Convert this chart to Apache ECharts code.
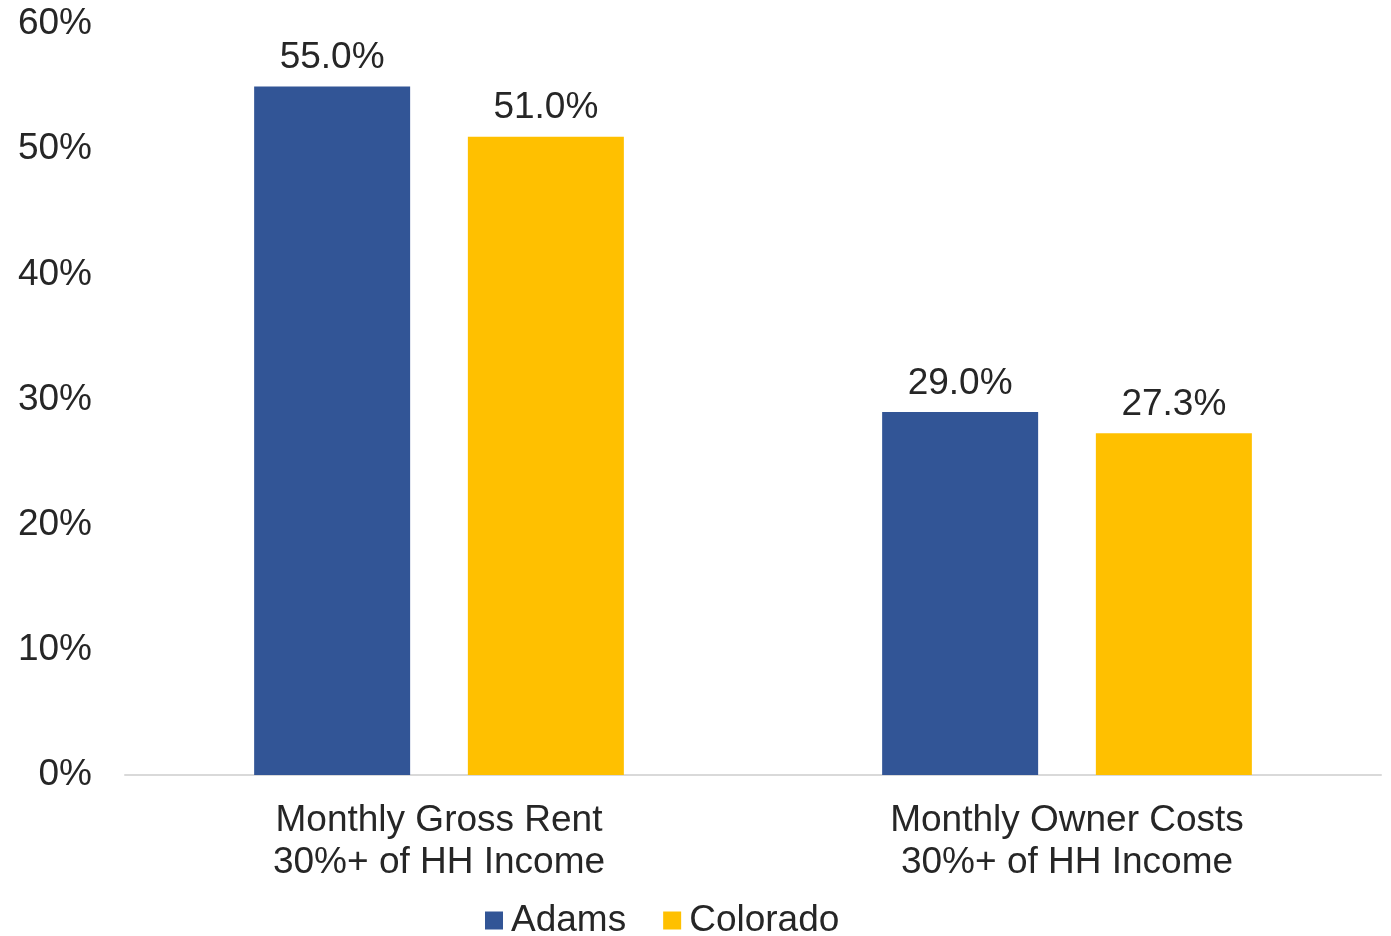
<!DOCTYPE html>
<html>
<head>
<meta charset="utf-8">
<script src="https://cdn.jsdelivr.net/npm/echarts@6/dist/echarts.min.js"></script>
<style>html,body{margin:0;padding:0;background:#fff}#c{width:1391px;height:936px}</style>
</head>
<body>
<div id="c"></div>
<script>
const categories = ['Monthly Gross Rent\n30%+ of HH Income', 'Monthly Owner Costs\n30%+ of HH Income'];
const adams = [55.0, 29.0];
const colorado = [51.0, 27.3];
const seriesNames = ['Adams', 'Colorado'];
const yTicks = [0, 10, 20, 30, 40, 50, 60];

const FONT = '"Liberation Sans", Arial, sans-serif';
const TXT = '#262626';
const chart = echarts.init(document.getElementById('c'), null, {renderer: 'canvas'});
const labelCfg = {
  show: true, position: 'top', distance: 10,
  formatter: p => p.value.toFixed(1) + '%',
  color: TXT, fontFamily: FONT, fontSize: 37
};
chart.setOption({
  animation: false,
  grid: {left: 125, right: 10, top: 24, bottom: 161, containLabel: false},
  legend: {
    data: seriesNames, left: 480, top: 897, itemWidth: 18, itemHeight: 18, itemGap: 37,
    icon: 'rect',
    textStyle: {color: TXT, fontFamily: FONT, fontSize: 37, padding: [0, 0, 0, 3]}
  },
  xAxis: {
    type: 'category', data: categories,
    axisLine: {lineStyle: {color: '#d9d9d9', width: 2}},
    axisTick: {show: false},
    axisLabel: {color: TXT, fontFamily: FONT, fontSize: 37, lineHeight: 42, margin: 25}
  },
  yAxis: {
    type: 'value', min: yTicks[0], max: yTicks[yTicks.length - 1], interval: 10,
    axisLine: {show: false}, axisTick: {show: false}, splitLine: {show: false},
    axisLabel: {color: TXT, fontFamily: FONT, fontSize: 37, margin: 33, formatter: v => v + '%'}
  },
  series: [
    {name: seriesNames[0], type: 'bar', data: adams, barWidth: 156, barGap: '37%',
     itemStyle: {color: '#325596'}, label: labelCfg},
    {name: seriesNames[1], type: 'bar', data: colorado, barWidth: 156, barGap: '37%',
     itemStyle: {color: '#FFC000'}, label: labelCfg}
  ]
});
</script>
</body>
</html>
